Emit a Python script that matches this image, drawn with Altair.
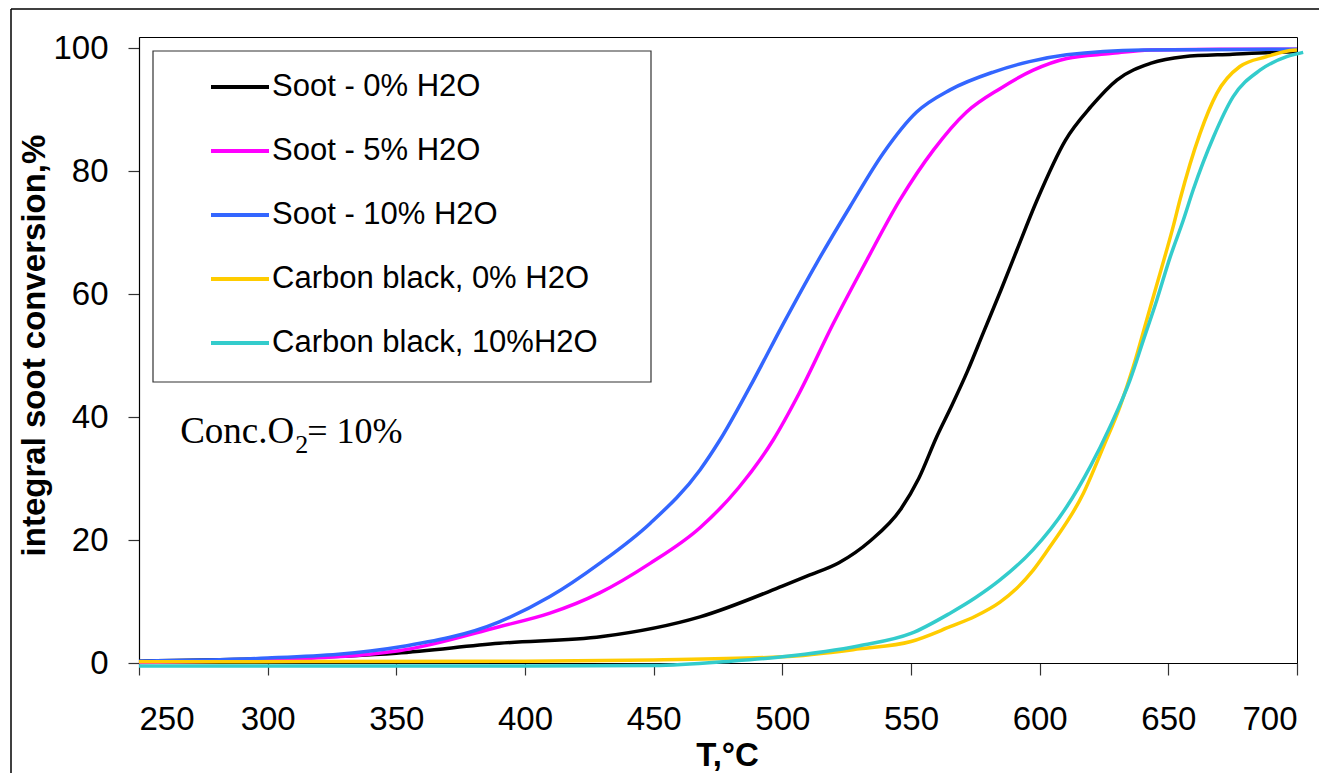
import altair as alt
import pandas as pd

# ---- data ----
series_names = ["Soot - 0% H2O", "Soot - 5% H2O", "Soot - 10% H2O",
                "Carbon black, 0% H2O", "Carbon black, 10%H2O"]
series_colors = ["#000000", "#FF00FF", "#3366FF", "#FFCC00", "#33CCCC"]

t_soot0 = [250, 300, 350, 390, 430, 468, 500, 510, 522, 534, 546, 553, 560, 566, 572, 578,
           585, 591, 599, 610, 620, 630, 643, 656, 675, 691, 700]
v_soot0 = [0.3, 0.7, 1.6, 3.2, 4.3, 7.5, 12.5, 14.2, 16.3, 19.8, 25, 30, 36.8, 42, 47.5, 53.6,
           60.7, 67, 75.3, 85, 90.5, 94.8, 97.5, 98.6, 99, 99.3, 99.4]

t_soot5 = [250, 300, 351, 390, 409.7, 429, 448.6, 468, 483, 496.5, 506.6, 519.8, 532.8,
           545.7, 558.7, 571.6, 584.6, 597.5, 610.5, 627.4, 643, 670, 700]
v_soot5 = [0.1, 0.5, 2.0, 5.9, 8.1, 11.4, 16.2, 22, 28.5, 36.3, 43.9, 55.2, 65.5,
           75.3, 83.4, 89.6, 93.4, 96.4, 98.3, 99.1, 99.7, 99.8, 99.8]

t_soot10 = [250, 300, 351, 390, 409.7, 429, 448.6, 468, 475.8, 487.4, 500.4, 513.3, 526.3,
            539.2, 552.2, 565.2, 582, 596, 610.5, 640, 700]
v_soot10 = [0.3, 0.8, 2.6, 6.7, 10.8, 16.2, 22.7, 31.4, 36.3, 44.9, 55.2, 65, 74.2,
            82.9, 89.6, 93.2, 96.1, 97.8, 98.9, 99.7, 99.8]

t_cb0 = [250, 400, 450, 500, 530, 550, 565.2, 575, 584.6, 591, 597.5, 604, 617, 624.8,
         631.2, 636.4, 641.6, 646.8, 651.9, 654.5, 662.3, 668.8, 677.8, 688.2, 697.3, 700]
v_cb0 = [0.2, 0.3, 0.5, 1.0, 2.3, 3.5, 5.9, 7.6, 9.9, 12.1, 15.1, 18.9, 27.6, 35.2,
         41.7, 48.2, 55.8, 63.4, 71, 75.3, 86.1, 92.6, 97, 98.6, 99.6, 99.7]

t_cb10 = [250, 400, 450, 480, 500, 530, 550, 565.2, 575, 584.6, 597.4, 610.5, 619.6, 627.3,
          635.1, 640.3, 645.5, 650.7, 655.8, 659.7, 667.5, 675.2, 685.6, 696, 702.4]
v_cb10 = [-0.5, -0.5, -0.4, 0.3, 1.0, 2.8, 4.8, 8.1, 10.6, 13.5, 18.4, 25.4, 31.9, 38.4,
          46, 52.5, 59, 66, 72, 77, 85.5, 92.1, 96.4, 98.6, 99.3]

x_ticks = [250, 300, 350, 400, 450, 500, 550, 600, 650, 700]
y_ticks = [0, 20, 40, 60, 80, 100]

annot_T = [266]
annot_v = [35.8]

# ---- build table ----
rows = []
for name, ts, vs in zip(series_names,
                        [t_soot0, t_soot5, t_soot10, t_cb0, t_cb10],
                        [v_soot0, v_soot5, v_soot10, v_cb0, v_cb10]):
    for i, (t, v) in enumerate(zip(ts, vs)):
        rows.append({"series": name, "T": t, "v": v, "i": i})
df = pd.DataFrame(rows)

W, H = 1158, 626

xscale = alt.Scale(domain=[250, 700], nice=False, zero=False)
yscale = alt.Scale(domain=[0, 101.8], nice=False)

one = pd.DataFrame({"a": [0]})

# legend frame (drawn behind the legend entries)
legend_box = alt.Chart(one).mark_rect(
    fill="#ffffff", stroke="#333333", strokeWidth=1.2).encode(
    x=alt.value(14), x2=alt.value(512), y=alt.value(14), y2=alt.value(345))

lines = alt.Chart(df).mark_line(strokeWidth=3.5, interpolate="monotone").encode(
    x=alt.X("T:Q", scale=xscale,
            axis=alt.Axis(values=x_ticks, title="T,°C", tickSize=12, labelPadding=28,
                          titleX=588, titleY=102, titleBaseline="alphabetic",
                          titleAlign="center", titleAnchor="start")),
    y=alt.Y("v:Q", scale=yscale,
            axis=alt.Axis(values=y_ticks, title="integral soot conversion,%",
                          tickSize=11, labelPadding=20,
                          titleX=-95, titleY=308, titleBaseline="alphabetic",
                          titleAlign="center", titleAnchor="start", titleAngle=270)),
    color=alt.Color("series:N",
                    scale=alt.Scale(domain=series_names, range=series_colors),
                    legend=alt.Legend(orient="none", legendX=14, legendY=14, title=None,
                                      symbolType="stroke", symbolSize=3364,
                                      symbolStrokeWidth=4, labelFont="Liberation Sans",
                                      labelFontSize=31, labelColor="#000000",
                                      padding=5, rowPadding=18, symbolOffset=51,
                                      labelOffset=1, labelLimit=0)),
    order="i:Q",
)

adf = pd.DataFrame({"T": annot_T, "v": annot_v})
txt_base = alt.Chart(adf).encode(x=alt.X("T:Q", scale=xscale), y=alt.Y("v:Q", scale=yscale))
t1 = txt_base.mark_text(text="Conc.O", align="left", baseline="alphabetic",
                        font="Liberation Serif", fontSize=37, color="#000000")
t2 = txt_base.mark_text(text="2", align="left", baseline="alphabetic", dx=115, dy=10,
                        font="Liberation Serif", fontSize=26, color="#000000")
t3 = txt_base.mark_text(text="= 10%", align="left", baseline="alphabetic", dx=127,
                        font="Liberation Serif", fontSize=36, color="#000000")

# outer picture border: top and left edges
top_edge = alt.Chart(one).mark_rule(color="#000000", strokeWidth=1.5).encode(
    x=alt.value(-128), x2=alt.value(W + 200), y=alt.value(-28))
left_edge = alt.Chart(one).mark_rule(color="#000000", strokeWidth=1.5).encode(
    x=alt.value(-128), y=alt.value(-28), y2=alt.value(H + 200))

chart = alt.layer(top_edge, left_edge, legend_box, lines, t1, t2, t3).properties(
    width=W, height=H,
    autosize=alt.AutoSizeParams(type="none"),
    padding={"left": 131, "top": 29, "right": 22, "bottom": 110},
).configure_view(stroke="#000000", strokeWidth=1).configure_axis(
    domainColor="#000000", domainWidth=1.2, tickColor="#333333", tickWidth=1.2,
    labelFont="Liberation Sans", labelFontSize=33, labelColor="#000000",
    titleFont="Liberation Sans", titleFontSize=33, titleFontWeight="bold",
    titleColor="#000000", grid=False,
)

chart.save("out.html", embed_options={"renderer": "svg", "actions": False})
